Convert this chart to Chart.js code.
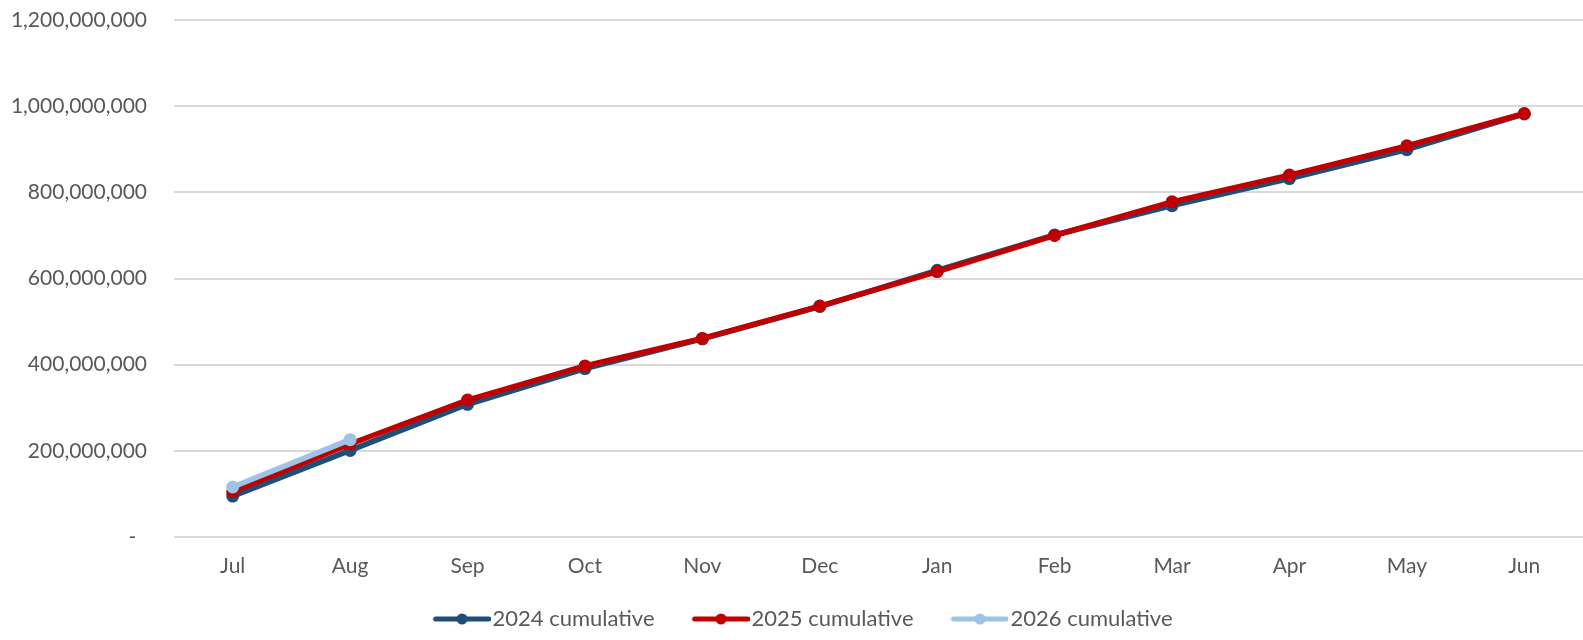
<!DOCTYPE html>
<html>
<head>
<meta charset="utf-8">
<script src="https://cdn.jsdelivr.net/npm/chart.js@4.4.1/dist/chart.umd.min.js"></script>
<style>
  html, body { margin: 0; padding: 0; background: #ffffff; }
  #wrap { width: 1583px; height: 640px; position: relative; }
</style>
</head>
<body>
<div id="wrap"><canvas id="c"></canvas></div>
<script>
// ---- Data ----
const months = ['Jul', 'Aug', 'Sep', 'Oct', 'Nov', 'Dec', 'Jan', 'Feb', 'Mar', 'Apr', 'May', 'Jun'];
const cumulative2024 = [95000000, 201000000, 308000000, 391000000, 460000000, 535000000, 619000000, 701000000, 769000000, 832000000, 899000000, 982000000];
const cumulative2025 = [105000000, 216000000, 318000000, 397000000, 461000000, 536000000, 616000000, 700000000, 778000000, 840000000, 908000000, 983000000];
const cumulative2026 = [116000000, 226000000, null, null, null, null, null, null, null, null, null, null];
const seriesNames = ['2024 cumulative', '2025 cumulative', '2026 cumulative'];
const yTicks = [0, 200000000, 400000000, 600000000, 800000000, 1000000000, 1200000000];

const colors = ['#1F4E79', '#C00000', '#9DC3E6'];
const FONT = 'Lato, "Open Sans", sans-serif';
const TEXT = '#595959';

function legendIcon(color) {
  const c = document.createElement('canvas');
  c.width = 66; c.height = 14;
  const g = c.getContext('2d');
  g.strokeStyle = color; g.lineWidth = 5; g.lineCap = 'round';
  g.beginPath(); g.moveTo(11, 7); g.lineTo(64, 7); g.stroke();
  g.fillStyle = color;
  g.beginPath(); g.arc(37.5, 7, 5.5, 0, Math.PI * 2); g.fill();
  return c;
}
const icons = colors.map(legendIcon);

const datasetsData = [cumulative2024, cumulative2025, cumulative2026];
const datasets = datasetsData.map((d, i) => ({
  label: seriesNames[i],
  data: d,
  borderColor: colors[i],
  backgroundColor: colors[i],
  borderWidth: 5.5,
  pointRadius: 6.5,
  pointHoverRadius: 6.5,
  pointBorderWidth: 0,
  pointStyle: 'circle',
  tension: 0,
  order: 3 - i,
  spanGaps: false,
  clip: false
}));

const LEFT_PAD = 23;

new Chart(document.getElementById('c'), {
  type: 'line',
  data: { labels: months, datasets },
  options: {
    responsive: true,
    maintainAspectRatio: false,
    animation: false,
    layout: { autoPadding: false, padding: { top: 20, left: LEFT_PAD, right: 0, bottom: 0 } },
    plugins: {
      tooltip: { enabled: false },
      legend: {
        position: 'bottom',
        labels: {
          font: { family: FONT, size: 22 },
          color: TEXT,
          usePointStyle: true,
          pointStyleWidth: 48,
          boxHeight: 14,
          padding: 38,
          sort: (a, b) => a.datasetIndex - b.datasetIndex,
          generateLabels: (chart) => chart.data.datasets.map((ds, i) => ({
            text: ds.label,
            fillStyle: colors[i],
            strokeStyle: colors[i],
            lineWidth: 0,
            pointStyle: icons[i],
            fontColor: TEXT,
            hidden: false,
            datasetIndex: i
          }))
        }
      }
    },
    scales: {
      x: {
        offset: true,
        grid: { display: false, drawTicks: false },
        border: { display: false },
        ticks: { font: { family: FONT, size: 21 }, color: TEXT, padding: 17, maxRotation: 0 },
        afterFit: (axis) => {
          axis.height = 33;
          axis.paddingLeft = 0; axis.paddingRight = 0;
          axis._computeLabelArea = () => null;
        }
      },
      y: {
        min: 0,
        max: 1200000000,
        afterBuildTicks: (axis) => { axis.ticks = yTicks.map(v => ({ value: v })); },
        afterFit: (axis) => {
          axis.width = 174 - LEFT_PAD;
          axis.paddingTop = 0; axis.paddingBottom = 0;
          axis._computeLabelArea = () => null;
        },
        grid: { color: '#D9D9D9', lineWidth: 2, drawTicks: false },
        border: { display: false },
        ticks: {
          font: { family: FONT, size: 21 },
          color: TEXT,
          padding: 27,
          callback: (v) => v === 0 ? '-  ' : Number(v).toLocaleString('en-US')
        }
      }
    }
  }
});
</script>
</body>
</html>
